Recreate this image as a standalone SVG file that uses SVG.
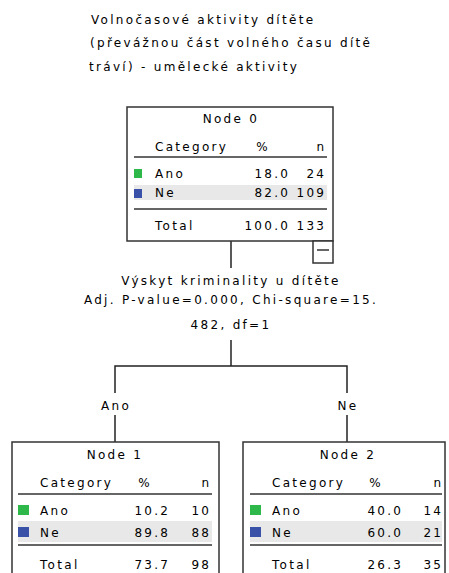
<svg xmlns="http://www.w3.org/2000/svg" width="449" height="573" viewBox="0 0 449 573">
<style>
text{font-family:"DejaVu Sans","Liberation Sans",sans-serif;font-size:12px;fill:#000;letter-spacing:2.3px}
.m{text-anchor:middle}
.e{text-anchor:end}
.box{fill:#fff;stroke:#333;stroke-width:1.5}
.rule{stroke:#333;stroke-width:1.5}
.con{stroke:#222;stroke-width:1.5;fill:none}
.g{fill:#2fb84a}
.b{fill:#3a51a8}
.row{fill:#e8e8e8}
</style>
<rect width="449" height="573" fill="#fff"/>
<g id="title">
<text x="91" y="24">Volnočasové aktivity dítěte</text>
<text x="90" y="47">(převážnou část volného času dítě</text>
<text x="89" y="71">tráví) - umělecké aktivity</text>
</g>
<g id="connectors">
<line class="con" x1="231" y1="241" x2="231" y2="268"/>
<line class="con" x1="231" y1="340" x2="231" y2="366"/>
<polyline class="con" points="115,393 115,366 347,366 347,393"/>
<line class="con" x1="115" y1="415" x2="115" y2="442"/>
<line class="con" x1="347" y1="415" x2="347" y2="442"/>
<text class="m" x="231" y="285">Výskyt kriminality u dítěte</text>
<text class="m" x="231" y="304">Adj. P-value=0.000, Chi-square=15.</text>
<text class="m" x="231" y="329">482, df=1</text>
<text class="m" x="116" y="410">Ano</text>
<text class="m" x="348" y="410">Ne</text>
</g>
<g id="node0">
<rect class="box" x="127" y="107" width="206" height="134"/>
<text class="m" x="231" y="123">Node 0</text>
<text x="155" y="151">Category</text>
<text class="m" x="263" y="151">%</text>
<text class="e" x="326.3" y="151">n</text>
<line class="rule" x1="134" y1="157" x2="327" y2="157"/>
<rect class="g" x="134" y="169" width="8" height="9"/>
<text x="155" y="178">Ano</text>
<text class="e" x="290.3" y="178">18.0</text>
<text class="e" x="326.3" y="178">24</text>
<rect class="row" x="134" y="185" width="193" height="15"/>
<rect class="b" x="134" y="189" width="8" height="9"/>
<text x="155" y="197">Ne</text>
<text class="e" x="290.3" y="197">82.0</text>
<text class="e" x="326.3" y="197">109</text>
<line class="rule" x1="134" y1="209" x2="327" y2="209"/>
<text x="155" y="230">Total</text>
<text class="e" x="290.3" y="230">100.0</text>
<text class="e" x="326.3" y="230">133</text>
<rect class="box" x="313" y="241" width="20" height="22"/>
<line class="rule" x1="317" y1="250" x2="329" y2="250"/>
</g>
<g id="node1">
<rect class="box" x="12" y="442" width="207" height="140"/>
<text class="m" x="115" y="459">Node 1</text>
<text x="40" y="487">Category</text>
<text class="m" x="145" y="487">%</text>
<text class="e" x="211.3" y="487">n</text>
<line class="rule" x1="18" y1="494" x2="212" y2="494"/>
<rect class="g" x="18" y="505" width="11" height="10"/>
<text x="40" y="515">Ano</text>
<text class="e" x="170.3" y="515">10.2</text>
<text class="e" x="211.3" y="515">10</text>
<rect class="row" x="18" y="521" width="194" height="21"/>
<rect class="b" x="18" y="527" width="11" height="10"/>
<text x="40" y="537">Ne</text>
<text class="e" x="170.3" y="537">89.8</text>
<text class="e" x="211.3" y="537">88</text>
<line class="rule" x1="18" y1="545" x2="212" y2="545"/>
<text x="40" y="569">Total</text>
<text class="e" x="170.3" y="569">73.7</text>
<text class="e" x="211.3" y="569">98</text>
</g>
<g id="node2">
<rect class="box" x="243" y="442" width="202" height="140"/>
<text class="m" x="348" y="459">Node 2</text>
<text x="272" y="487">Category</text>
<text class="m" x="376" y="487">%</text>
<text class="e" x="443.3" y="487">n</text>
<line class="rule" x1="250" y1="494" x2="442" y2="494"/>
<rect class="g" x="250" y="505" width="11" height="10"/>
<text x="272" y="515">Ano</text>
<text class="e" x="403.3" y="515">40.0</text>
<text class="e" x="443.3" y="515">14</text>
<rect class="row" x="250" y="521" width="192" height="21"/>
<rect class="b" x="250" y="527" width="11" height="10"/>
<text x="272" y="537">Ne</text>
<text class="e" x="403.3" y="537">60.0</text>
<text class="e" x="443.3" y="537">21</text>
<line class="rule" x1="250" y1="545" x2="442" y2="545"/>
<text x="272" y="569">Total</text>
<text class="e" x="403.3" y="569">26.3</text>
<text class="e" x="443.3" y="569">35</text>
</g>
</svg>
